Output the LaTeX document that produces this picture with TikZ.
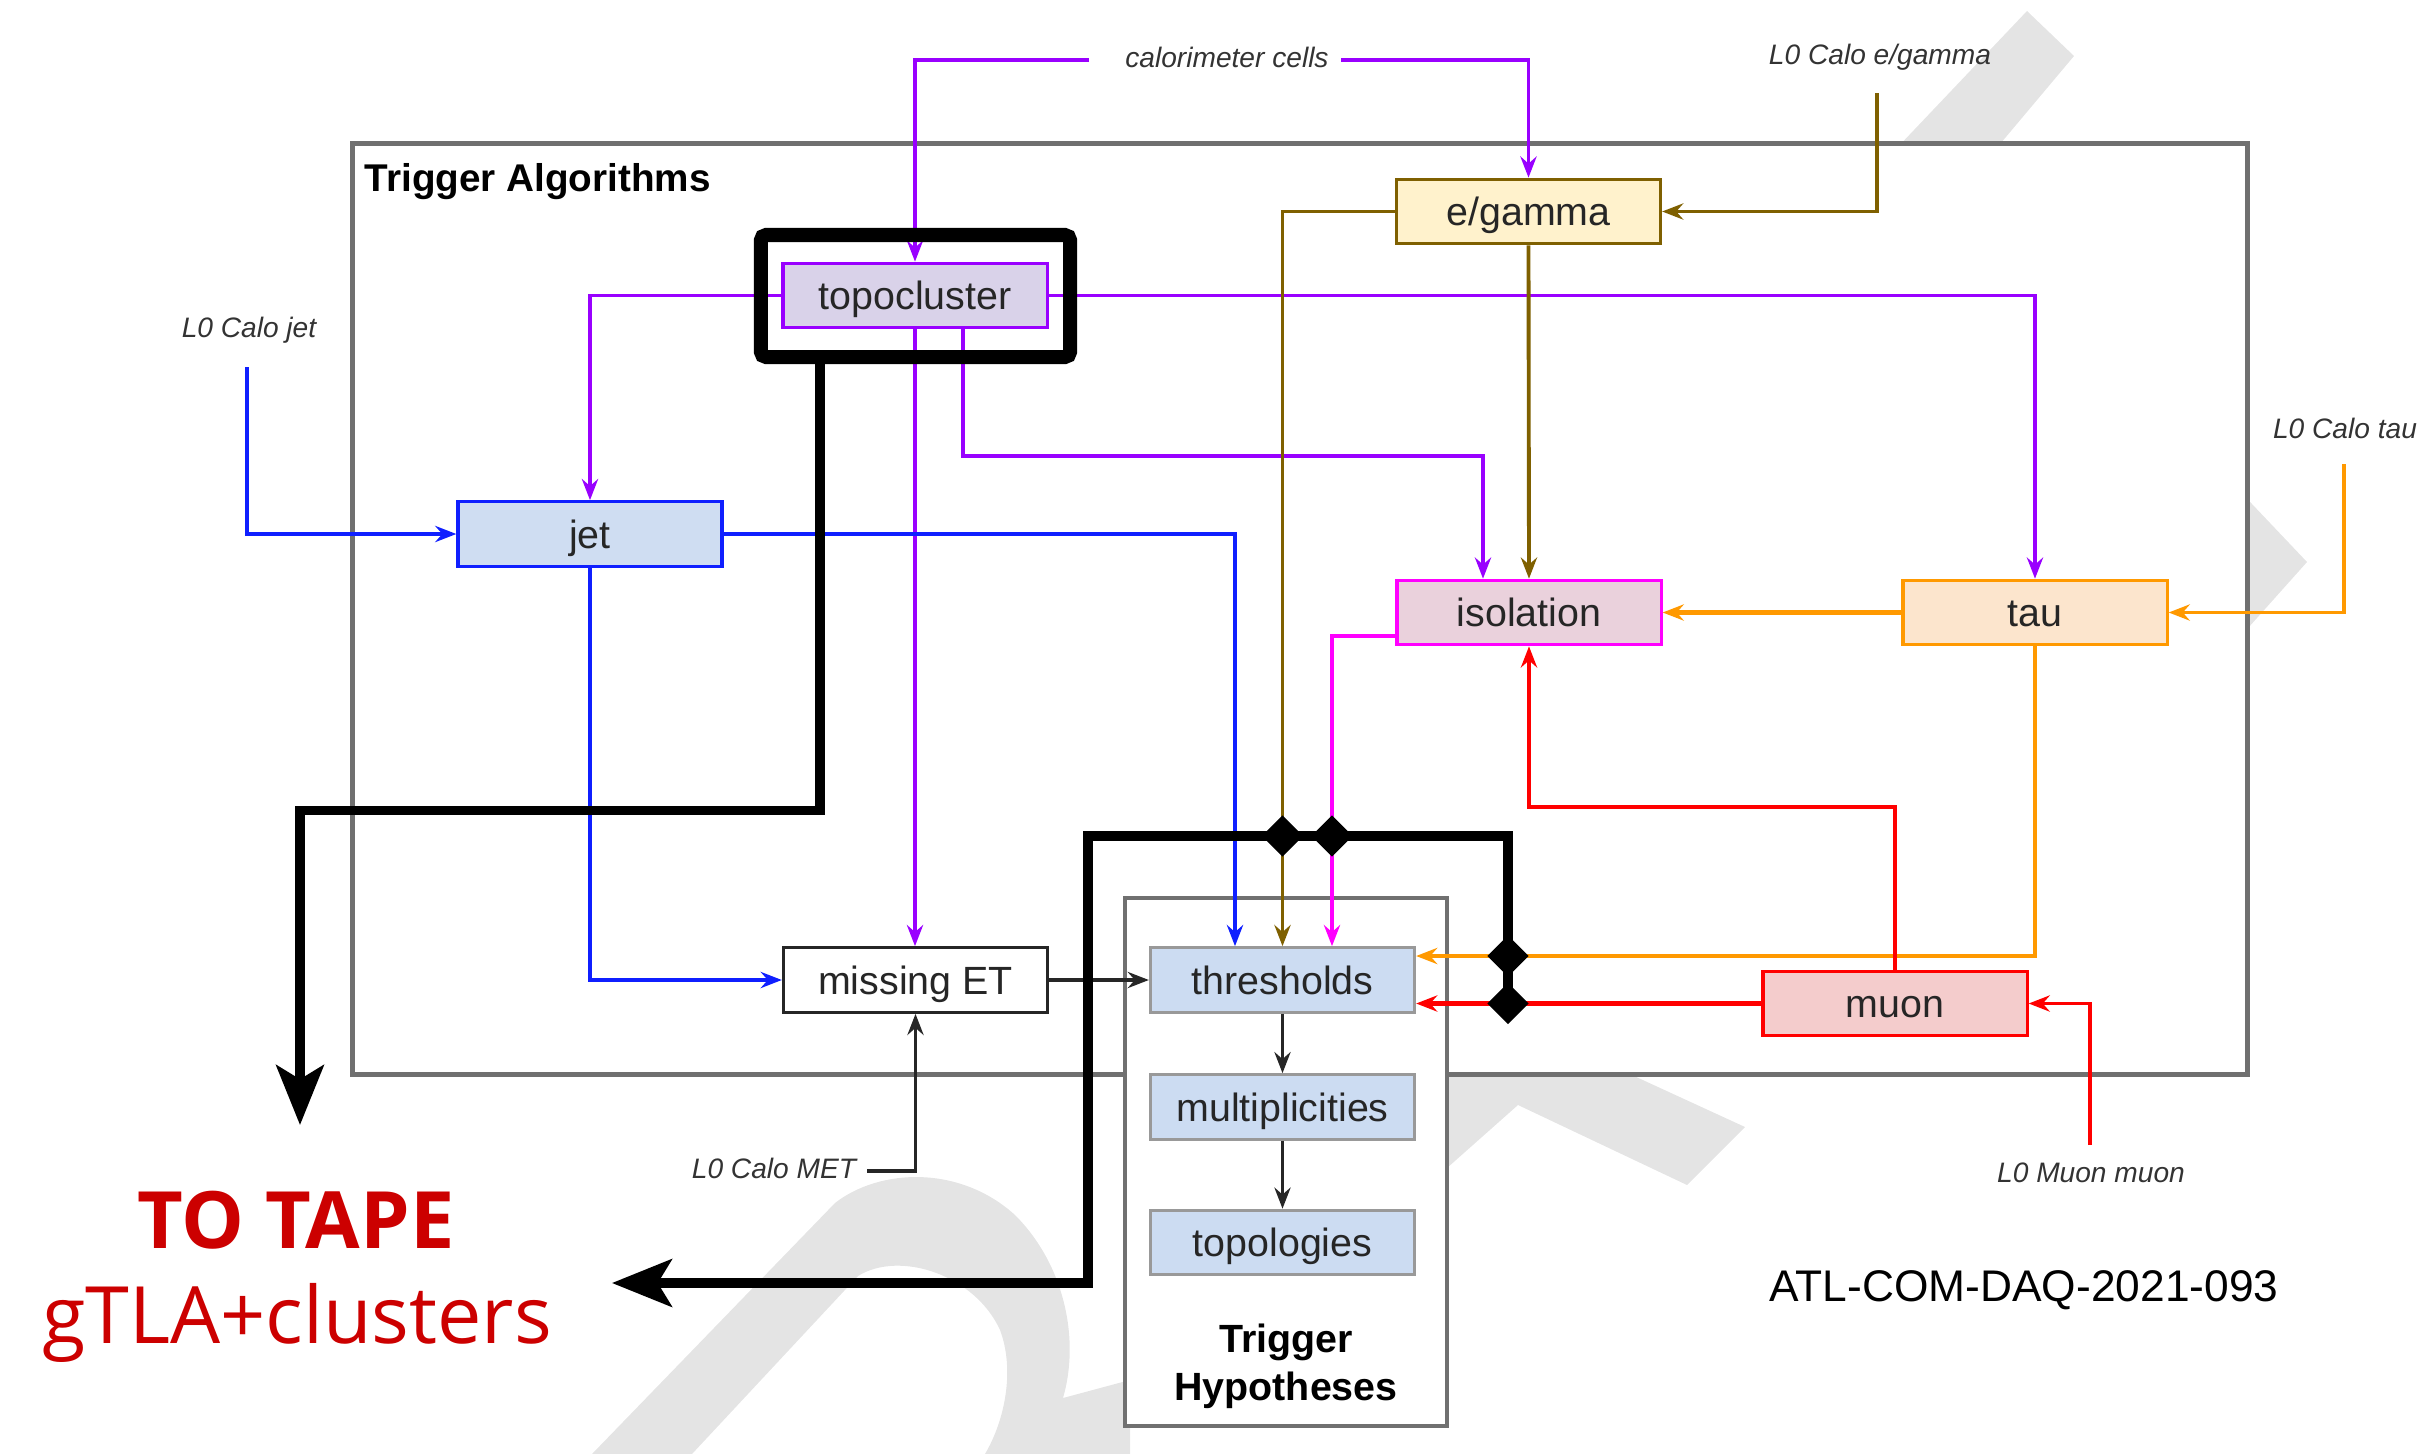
\documentclass[tikz,border=0pt]{standalone}
\usepackage{fontspec}
\setmainfont{Liberation Sans}
\newfontfamily\tapefont{Open Sans}
\usetikzlibrary{arrows.meta,shapes.geometric,calc}

\definecolor{wm}{HTML}{E4E4E4}
\definecolor{frameg}{HTML}{707070}
\definecolor{cpurple}{HTML}{9900FF}
\definecolor{cbrown}{HTML}{7F6000}
\definecolor{cblue}{HTML}{0F1FFF}
\definecolor{cmag}{HTML}{FF00FF}
\definecolor{corange}{HTML}{FF9900}
\definecolor{cred}{HTML}{FF0000}
\definecolor{tapered}{HTML}{CC0000}
\definecolor{fpurple}{HTML}{D9D2E9}
\definecolor{fjet}{HTML}{CFDDF2}
\definecolor{fyellow}{HTML}{FFF2CC}
\definecolor{fpink}{HTML}{EAD1DC}
\definecolor{forange}{HTML}{FCE5CD}
\definecolor{fred}{HTML}{F4CCCC}
\definecolor{fhyp}{HTML}{CCDCF2}

\begin{document}
\begin{tikzpicture}[x=0.01cm,y=-0.01cm,
  box/.style={draw, line width=0.9pt, minimum width=2.64cm, minimum height=0.645cm,
    inner sep=0pt, text height=10.6pt, text depth=2.4pt,
    font=\fontsize{11.2}{13}\selectfont, text=black!85},
  hyp/.style={box, draw=black!40, fill=fhyp},
  conn/.style={line width=1.1pt, -{Stealth[length=6pt,width=4.6pt,inset=2pt]}},
  feed/.style={inner sep=0pt, font=\itshape\fontsize{8}{10}\selectfont, text=black!80},
  tape/.style={line width=2.6pt, -{Stealth[length=17pt,width=13.5pt,inset=4pt]}},
  junction/.style={diamond, fill=black, aspect=1, minimum width=0.42cm,
    minimum height=0.42cm, inner sep=0pt},
  panel/.style={draw=frameg, fill=white, line width=1.3pt, inner sep=0pt}]

\useasboundingbox (0,0) rectangle (2423,1454);

% faint watermark letters in the background
\fill[wm] (2027,11) -- (2074,56) -- (1995,150) -- (1895,150) -- cycle;
\fill[wm] (2215,465) -- (2307,562) -- (2215,665) -- cycle;
\fill[wm] (1447,990) -- (1745,1127) -- (1687,1185) -- (1518,1105) -- (1447,1168) -- cycle;
\fill[wm, even odd rule]
  (592,1454) -- (835,1203) .. controls (880,1168) and (960,1165) .. (1015,1215)
  .. controls (1065,1265) and (1080,1340) .. (1063,1398) -- (1130,1380) -- (1130,1454) -- cycle
  (692,1454) -- (858,1276) .. controls (900,1250) and (975,1275) .. (1000,1330)
  .. controls (1015,1370) and (1005,1420) .. (985,1454) -- cycle;

% the two panels
\node[panel, minimum width=18.94cm, minimum height=9.30cm] (algos) at (1300,609) {};
\node[anchor=base west, inner sep=0pt, font=\bfseries\fontsize{11}{13}\selectfont]
  (algtitle) at (364,191) {Trigger Algorithms};
\node[panel, minimum width=3.22cm, minimum height=5.28cm] (hypos) at (1286,1162) {};
\node[align=center, inner sep=0pt, font=\bfseries\fontsize{11.2}{13.7}\selectfont]
  (hyptitle) at (1286,1366) {Trigger\\Hypotheses};

% algorithm and hypothesis blocks
\node[box, draw=cpurple, fill=fpurple] (topo) at (915,295.5) {topocluster};
\node[box, draw=cblue, fill=fjet] (jet) at (590,534) {jet};
\node[box, draw=cbrown, fill=fyellow] (eg) at (1528.5,211.5) {e/gamma};
\node[box, draw=cmag, fill=fpink] (iso) at (1529,612.5) {isolation};
\node[box, draw=corange, fill=forange] (tau) at (2035,612.5) {tau};
\node[box, draw=cred, fill=fred] (muon) at (1895,1003.5) {muon};
\node[box, draw=black!85, fill=white] (met) at (915.5,980) {missing ET};
\node[hyp] (thr) at (1282.5,980) {thresholds};
\node[hyp] (mult) at (1282.5,1107) {multiplicities};
\node[hyp] (topol) at (1282.5,1242.5) {topologies};

% external inputs
\node[feed] (calo) at (1227,57) {calorimeter cells};
\node[feed] (legamma) at (1880,57) {L0 Calo e/gamma};
\node[feed] (ljet) at (249,330) {L0 Calo jet};
\node[feed] (ltau) at (2345,428) {L0 Calo tau};
\node[feed] (lmet) at (774,1168) {L0 Calo MET};
\node[feed] (lmuon) at (2091,1173) {L0 Muon muon};
\coordinate (ccL) at (1089,60);
\coordinate (ccR) at (1341,60);
\coordinate (egIn) at (1877,93);
\coordinate (jetIn) at (247,367);
\coordinate (tauIn) at (2344,464);
\coordinate (metIn) at (867,1171);
\coordinate (muIn) at (2090,1145);

\draw[conn, cpurple] (ccL) -| (topo.north);
\draw[conn, cpurple] (ccR) -| (eg.north);
\draw[conn, cbrown] (egIn) |- (eg.east);
\draw[conn, cblue] (jetIn) |- (jet.west);
\draw[conn, corange] (tauIn) |- (tau.east);
\draw[conn, black!85, line width=0.9pt] (metIn) -| (met.south);
\draw[conn, cred] (muIn) |- (muon.east);

% topocluster outputs
\draw[conn, cpurple] (topo.west) -| (jet.north);
\draw[conn, cpurple] (topo.east) -| (tau.north);
\draw[conn, cpurple] (topo.south) -- (topo.south |- met.north);
\draw[conn, cpurple] ($(topo.south)+(48,0)$) -- ++(0,126.5) -| ($(iso.north)+(-46,0)$);

% e/gamma outputs
\draw[conn, cbrown] (eg.west) -| (thr.north);
\draw[conn, cbrown] (eg.south) -- (iso.north);

% jet outputs
\draw[conn, cblue, line width=1.4pt] (jet.east) -| ($(thr.north)+(-47.5,0)$);
\draw[conn, cblue, line width=1.4pt] (jet.south) |- (met.west);

% isolation, tau and muon outputs
\draw[conn, cmag] ($(iso.west)+(0,23.5)$) -| ($(thr.north)+(49.5,0)$);
\draw[conn, corange, line width=1.5pt] (tau.west) -- (iso.east);
\draw[conn, corange, line width=1.3pt] (tau.south) |- ($(thr.east)+(0,-24)$);
\draw[conn, cred, line width=1.3pt] (muon.west) -- (thr.east |- muon.west);
\draw[conn, cred] (muon.north) -- ++(0,-163) -| (iso.south);

% hypothesis chain
\draw[conn, black!85, line width=0.9pt] (met.east) -- (thr.west);
\draw[conn, black!85, line width=0.9pt] (thr.south) -- (mult.north);
\draw[conn, black!85, line width=0.9pt] (mult.south) -- (topol.north);

% readout to tape
\node[draw, line width=4pt, rounded corners=1.5pt, minimum width=3.09cm,
  minimum height=1.22cm, inner sep=0pt] (tframe) at (915.5,296) {};
\coordinate (tapeA) at (300,1125);
\coordinate (tapeB) at (612,1283);
\coordinate (tapeStart) at (1508,1003.5);
\draw[tape] ($(tframe.south)+(-95.5,0)$) -- ++(0,446) -| (tapeA);
\draw[tape] (tapeStart) |- (1088,836) |- (tapeB);
\node[junction] (j1) at (1282.5,836) {};
\node[junction] (j2) at (1332,836) {};
\node[junction] (j3) at (1508,956) {};
\node[junction] (j4) at (tapeStart) {};

\node[anchor=base, inner sep=0pt, text=tapered,
  font=\tapefont\bfseries\fontsize{22.5}{26}\selectfont] (tape1) at (296,1248) {TO TAPE};
\node[anchor=base, inner sep=0pt, text=tapered,
  font=\tapefont\fontsize{22.5}{26}\selectfont] (tape2) at (297,1343) {gTLA+clusters};

\node[inner sep=0pt, font=\fontsize{12.6}{14}\selectfont] (atl) at (2024,1290) {ATL-COM-DAQ-2021-093};
\end{tikzpicture}
\end{document}
